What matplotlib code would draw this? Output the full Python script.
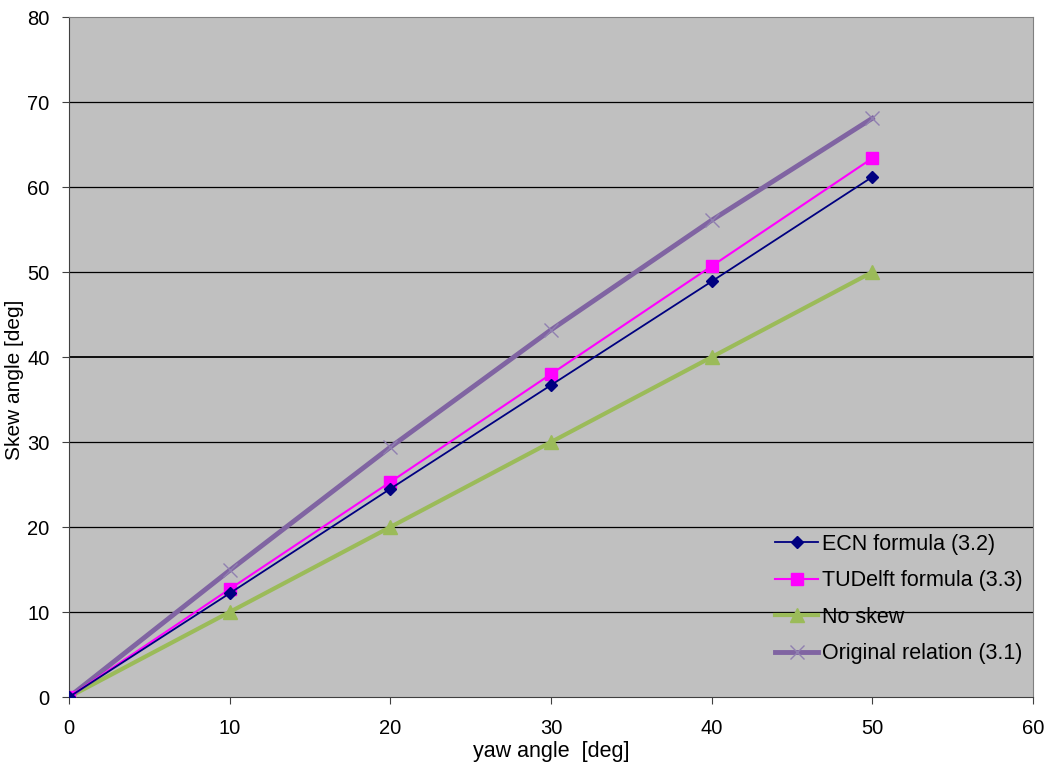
import numpy as np
import matplotlib.pyplot as plt

plt.rcParams['font.family'] = ['Liberation Sans', 'DejaVu Sans']

# yaw angle [deg]
yaw = [0, 10, 20, 30, 40, 50]

# skew angle [deg] per relation
ecn = [0, 12.2, 24.5, 36.7, 48.9, 61.2]
tudelft = [0, 12.7, 25.3, 38.0, 50.7, 63.4]
no_skew = [0, 10, 20, 30, 40, 50]
original = [0, 14.9, 29.4, 43.2, 56.1, 68.1]

fs = 15.5

fig = plt.figure(figsize=(10.5, 7.69), dpi=100)
ax = fig.add_axes([0.0657, 0.0936, 0.918, 0.884])
ax.set_facecolor('#C0C0C0')

for yv in range(10, 80, 10):
    lw = 1.3 if yv == 40 else 0.9
    ax.axhline(yv, color='black', lw=lw, zorder=1)

ax.plot(yaw, ecn, color='#000080', lw=1.3, marker='D', ms=6,
        label='ECN formula (3.2)', zorder=4)
ax.plot(yaw, tudelft, color='#FF00FF', lw=1.5, marker='s', ms=8,
        label='TUDelft formula (3.3)', zorder=3)
ax.plot(yaw, no_skew, color='#9BBB59', lw=3, marker='^', ms=10,
        label='No skew', zorder=2)
ax.plot(yaw, original, color='#8064A2', lw=3.5, marker='x', ms=10,
        mew=1, mec='#9080B0', label='Original relation (3.1)', zorder=2)

ax.set_xlim(0, 60)
ax.set_ylim(0, 80)
ax.set_xticks(range(0, 61, 10))
ax.set_yticks(range(0, 81, 10))
ax.tick_params(labelsize=14.5, direction='out', length=5, color='#404040')
ax.tick_params(axis='x', pad=11)
ax.tick_params(axis='y', pad=9)
for s in ax.spines.values():
    s.set_color('#808080')
ax.spines['left'].set_color('#404040')
ax.spines['bottom'].set_color('#404040')

ax.set_xlabel('yaw angle  [deg]', fontsize=fs)
ax.xaxis.set_label_coords(0.5, -0.064)
ax.set_ylabel('Skew angle [deg]', fontsize=15)
ax.yaxis.set_label_coords(-0.0465, 0.466)

leg = ax.legend(loc='lower right', bbox_to_anchor=(1.009, 0.02), frameon=False,
                fontsize=fs, handlelength=2.0, handletextpad=0.15,
                labelspacing=0.72)

fig.savefig('out.png', dpi=100)
